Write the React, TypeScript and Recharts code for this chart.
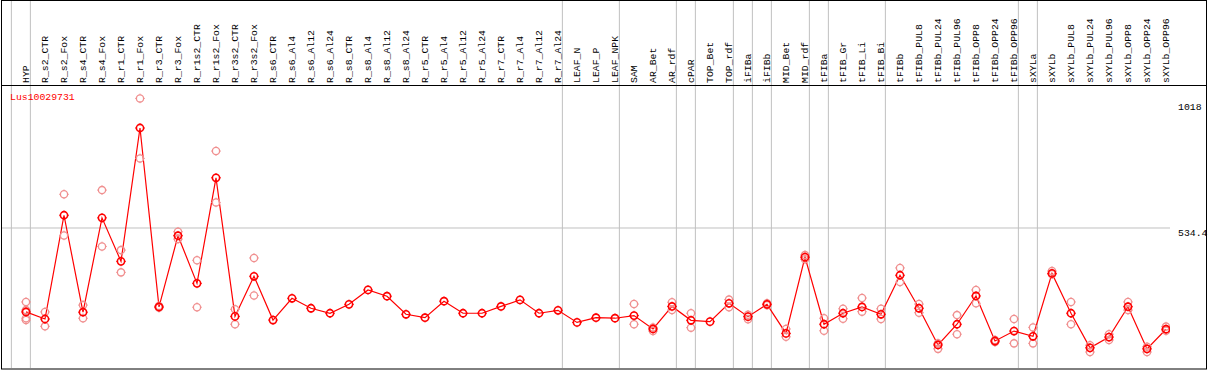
import React from 'react';
import { LineChart, Line, XAxis, YAxis, ReferenceLine } from 'recharts';

// sample names across the top
const categories = [
  'HYP', 'R_s2_CTR', 'R_s2_Fox', 'R_s4_CTR', 'R_s4_Fox', 'R_r1_CTR', 'R_r1_Fox', 'R_r3_CTR', 'R_r3_Fox', 'R_r1s2_CTR',
  'R_r1s2_Fox', 'R_r3s2_CTR', 'R_r3s2_Fox', 'R_s6_CTR', 'R_s6_Al4', 'R_s6_Al12', 'R_s6_Al24', 'R_s8_CTR', 'R_s8_Al4', 'R_s8_Al12',
  'R_s8_Al24', 'R_r5_CTR', 'R_r5_Al4', 'R_r5_Al12', 'R_r5_Al24', 'R_r7_CTR', 'R_r7_Al4', 'R_r7_Al12', 'R_r7_Al24', 'LEAF_N',
  'LEAF_P', 'LEAF_NPK', 'SAM', 'AR_Bet', 'AR_rdf', 'cPAR', 'TOP_Bet', 'TOP_rdf', 'iFIBa', 'iFIBb',
  'MID_Bet', 'MID_rdf', 'tFIBa', 'tFIB_Gr', 'tFIB_Li', 'tFIB_Bi', 'tFIBb', 'tFIBb_PUL8', 'tFIBb_PUL24', 'tFIBb_PUL96',
  'tFIBb_OPP8', 'tFIBb_OPP24', 'tFIBb_OPP96', 'sXYLa', 'sXYLb', 'sXYLb_PUL8', 'sXYLb_PUL24', 'sXYLb_PUL96', 'sXYLb_OPP8', 'sXYLb_OPP24',
  'sXYLb_OPP96',
];

// mean expression per sample
const means = [
  214, 187, 583, 213, 573, 407, 916, 233, 505, 323,
  726, 197, 350, 183, 266, 228, 209, 243, 298, 274,
  205, 192, 255, 209, 209, 235, 260, 209, 220, 174,
  192, 190, 200, 149, 235, 182, 177, 247, 196, 243,
  132, 423, 167, 209, 233, 205, 354, 228, 88, 167,
  275, 103, 141, 121, 361, 209, 77, 118, 234, 73,
  148,
];

// replicates (null = hidden under the mean marker)
const repHigh = [
  252, 214, 663, 240, 679, 450, 1029, 237, 520, 411,
  828, 224, 420, null, null, null, null, null, null, null,
  null, null, null, null, null, null, null, null, null, null,
  null, null, 244, 155, 251, 209, null, 261, 203, 247,
  149, 431, 190, 226, 267, 226, 382, 244, 94, 202,
  298, 107, 187, 155, 370, 252, 87, 129, 252, 81,
  158,
];
const repLow = [
  190, 159, 506, 190, 464, 365, 800, 230, 492, 232,
  632, 167, 277, null, null, null, null, null, null, null,
  null, null, null, null, null, null, null, null, null, null,
  null, null, 167, 141, 221, 154, null, 232, 186, 240,
  119, 415, 142, 188, 215, 187, 328, 211, 73, 129,
  247, 99, 94, 94, 358, 167, 61, 107, 221, 61,
  142,
];
const repExtraA = categories.map((_, i) => (i === 0 ? 221 : null));
const repExtraB = categories.map((_, i) => (i === 0 ? 183 : null));

const yTicks = [0, 534.4, 1018];
// group separators sit just right of these sample indexes
const separators = [-1, 0, 28, 31, 34, 35, 37, 38, 39, 41, 42, 45, 52, 53, 60];

const data = categories.map((name, i) => ({
  i,
  name,
  mean: means[i],
  r1: repHigh[i],
  r2: repLow[i],
  r3: repExtraA[i],
  r4: repExtraB[i],
}));

const FONT = '"Liberation Mono", "DejaVu Sans Mono", monospace';

function ring(cx: number, cy: number, color: string, w: number) {
  const r = 3.6;
  const t = 1.2;
  return (
    <>
      <circle cx={cx} cy={cy} r={r} fill="none" stroke={color} strokeWidth={w} />
      <line x1={cx} y1={cy - r - t} x2={cx} y2={cy - r} stroke={color} strokeWidth={1} />
      <line x1={cx} y1={cy + r} x2={cx} y2={cy + r + t} stroke={color} strokeWidth={1} />
      <line x1={cx - r - t} y1={cy} x2={cx - r} y2={cy} stroke={color} strokeWidth={1} />
      <line x1={cx + r} y1={cy} x2={cx + r + t} y2={cy} stroke={color} strokeWidth={1} />
    </>
  );
}

const makeDot = (color: string, w: number, tag: string) => (props: any) => {
  const { cx, cy, index, value } = props;
  if (cx == null || cy == null || value == null) return <g key={`${tag}${index}`} />;
  return <g key={`${tag}${index}`}>{ring(cx, cy, color, w)}</g>;
};

const repDot = makeDot('#f09090', 1.3, 'r');
const meanDot = makeDot('#ff0000', 1.6, 'm');

function SampleTick(props: any) {
  const { x, payload } = props;
  return (
    <text
      transform={`translate(${x + 3},83) rotate(-90)`}
      fontFamily={FONT}
      fontSize={9.8}
      fill="#000"
      textAnchor="start"
    >
      {categories[payload.value]}
    </text>
  );
}

function ValueTick(props: any) {
  const { y, payload } = props;
  const dy = payload.value === 0 ? -2.7 : 8.3;
  return (
    <text x={1178} y={y + dy} fontFamily={FONT} fontSize={9.8} fill="#000" textAnchor="start">
      {payload.value}
    </text>
  );
}

export default function App() {
  return (
    <div style={{ position: 'relative', width: 1209, height: 370, background: '#fff' }}>
      <style>{'body{margin:0}'}</style>
      <LineChart width={1209} height={370} data={data} margin={{ top: 0, right: 0, bottom: 0, left: 1 }}>
        <XAxis
          dataKey="i"
          type="number"
          domain={[-25 / 19, -25 / 19 + 1169 / 19]}
          ticks={categories.map((_, i) => i)}
          interval={0}
          tick={<SampleTick />}
          axisLine={false}
          tickLine={false}
          height={2}
          allowDataOverflow
        />
        <YAxis
          orientation="right"
          width={39}
          type="number"
          domain={[0, 368 / 0.262]}
          ticks={yTicks}
          tick={<ValueTick />}
          axisLine={false}
          tickLine={false}
          allowDataOverflow
        />
        {separators.map((s) => (
          <ReferenceLine key={s} x={s + 0.23} stroke="#c0c0c0" strokeWidth={1} />
        ))}
        <ReferenceLine y={534.4} stroke="#c0c0c0" strokeWidth={1} />
        {['r1', 'r2', 'r3', 'r4'].map((k) => (
          <Line
            key={k}
            dataKey={k}
            stroke="none"
            dot={repDot}
            activeDot={false}
            isAnimationActive={false}
          />
        ))}
        <Line
          dataKey="mean"
          type="linear"
          stroke="#ff0000"
          strokeWidth={1.2}
          dot={meanDot}
          activeDot={false}
          isAnimationActive={false}
        />
      </LineChart>
      <svg width={1209} height={370} style={{ position: 'absolute', left: 0, top: 0, pointerEvents: 'none' }}>
        <rect x={1.5} y={0.5} width={1205} height={368.5} fill="none" stroke="#000" strokeWidth={1} />
        <line x1={1} y1={85.5} x2={1207} y2={85.5} stroke="#000" strokeWidth={1} />
        <text x={10} y={100} fontFamily={FONT} fontSize={9.8} fill="#ff0000">Lus10029731</text>
      </svg>
    </div>
  );
}
